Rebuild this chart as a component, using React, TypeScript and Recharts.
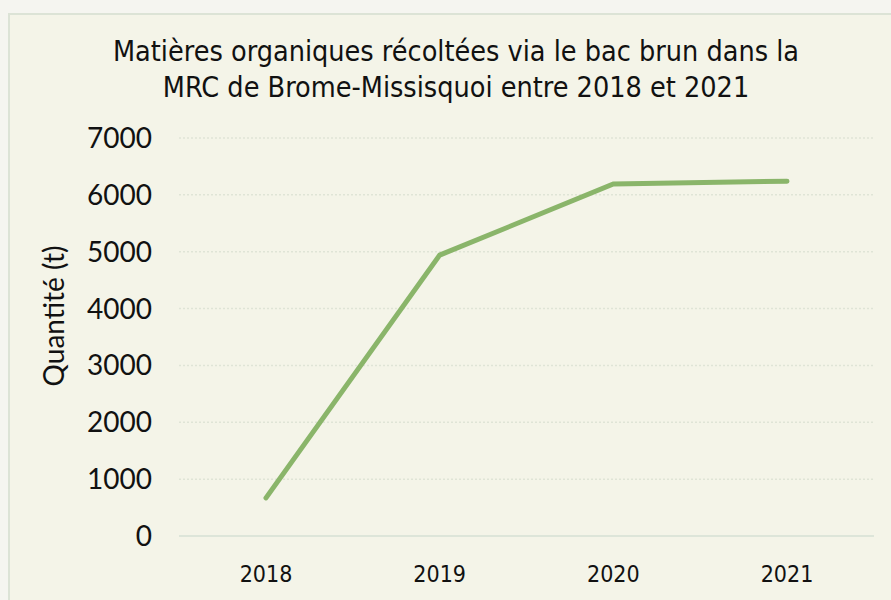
import React from 'react';
import { CartesianGrid, Line, LineChart, XAxis, YAxis } from 'recharts';

const years = ['2018', '2019', '2020', '2021'];
const tonnes = [670, 4940, 6190, 6240];
const yTicks = [0, 1000, 2000, 3000, 4000, 5000, 6000, 7000];

const titleLines = [
    'Matières organiques récoltées via le bac brun dans la',
    'MRC de Brome-Missisquoi entre 2018 et 2021',
];

const narrow = '"DejaVu Sans Condensed", "DejaVu Sans"';

const data = years.map((y, i) => ({ year: y, value: tonnes[i] }));

const YLabel = (props: any) => {
    const vb = props.viewBox || { x: 0, y: 0, width: 0, height: 0 };
    const x = vb.x + 43;
    const y = vb.y + vb.height / 2 - 21;
    return (
        <text
            x={x}
            y={y}
            transform={`rotate(-90, ${x}, ${y})`}
            textAnchor="middle"
            dominantBaseline="central"
            fontFamily="Lato"
            fontSize={28}
            fill="#111"
        >
            Quantité (t)
        </text>
    );
};

const App: React.FC = () => {
    return (
        <div style={{ position: 'fixed', left: 0, top: 0, width: 891, height: 600, background: '#f5f5f0', overflow: 'hidden' }}>
            <div
                style={{
                    position: 'absolute',
                    left: 8,
                    top: 13,
                    width: 900,
                    height: 600,
                    background: '#f4f4e8',
                    borderLeft: '2px solid #dce3d6',
                    borderTop: '2px solid #dce3d6',
                }}
            >
                <div
                    style={{
                        position: 'absolute',
                        left: 9,
                        width: 874,
                        top: 19,
                        textAlign: 'center',
                        fontFamily: narrow,
                        fontStretch: 'condensed',
                        fontSize: 28.5,
                        lineHeight: '36px',
                        color: '#111',
                    }}
                >
                    {titleLines.map((t) => (
                        <div key={t}>{t}</div>
                    ))}
                </div>
                <div style={{ position: 'absolute', left: 0, top: 0 }}>
                    <LineChart
                        width={881}
                        height={585}
                        data={data}
                        margin={{ top: 123, right: 17, left: 0, bottom: 0 }}
                    >
                        <CartesianGrid vertical={false} stroke="#dfe4d6" strokeWidth={1.5} strokeDasharray="2 2" />
                        <XAxis
                            dataKey="year"
                            height={64}
                            padding={{ left: 87, right: 87 }}
                            axisLine={{ stroke: '#dde5d9', strokeWidth: 2 }}
                            tickLine={false}
                            tickSize={0}
                            tickMargin={30}
                            tick={{ fill: '#111', fontFamily: narrow, fontStretch: 'condensed', fontSize: 23 }}
                        />
                        <YAxis
                            width={169}
                            domain={[0, 7000]}
                            ticks={yTicks}
                            axisLine={false}
                            tickLine={false}
                            tickSize={0}
                            tickMargin={27}
                            tick={{ fill: '#111', fontFamily: 'Lato', fontSize: 28 }}
                            label={<YLabel />}
                        />
                        <Line
                            type="linear"
                            dataKey="value"
                            stroke="#8ab56a"
                            strokeWidth={5}
                            strokeLinecap="round"
                            dot={false}
                            activeDot={false}
                            isAnimationActive={false}
                        />
                    </LineChart>
                </div>
            </div>
        </div>
    );
};

export default App;
